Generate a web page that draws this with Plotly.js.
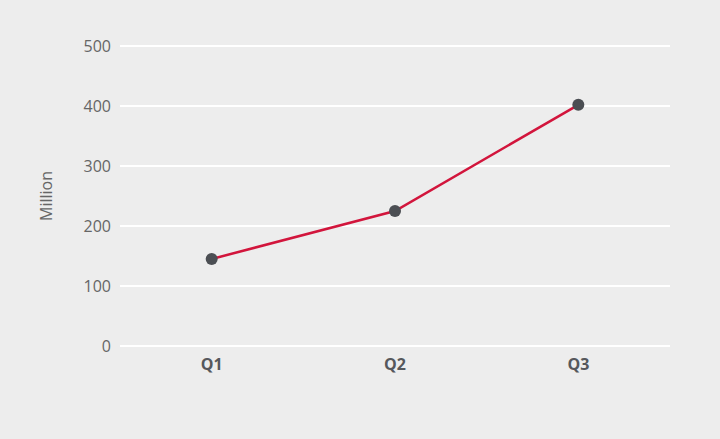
<!DOCTYPE html>
<html>
<head>
<meta charset="utf-8">
<script src="https://cdn.plot.ly/plotly-3.0.1.min.js"></script>
<style>html,body{margin:0;padding:0;background:#ededed;}</style>
</head>
<body>
<div id="chart" style="width:720px;height:439px;"></div>
<script>
const quarters = ["Q1", "Q2", "Q3"];
const values = [145, 225, 402];
const yTicks = [0, 100, 200, 300, 400, 500];

const trace = {
  x: quarters,
  y: values,
  type: "scatter",
  mode: "lines+markers",
  line: {color: "#d2153c", width: 2.5},
  marker: {color: "#4b4e53", size: 12},
  hoverinfo: "none"
};

const layout = {
  width: 720,
  height: 439,
  paper_bgcolor: "#ededed",
  plot_bgcolor: "#ededed",
  margin: {l: 120, r: 50, t: 45, b: 92},
  showlegend: false,
  font: {family: "'Open Sans', sans-serif", color: "#666666"},
  xaxis: {
    type: "category",
    range: [-0.5, 2.5],
    showgrid: false,
    zeroline: false,
    showline: false,
    ticks: "",
    ticklabelstandoff: 6,
    tickfont: {size: 16, color: "#56585c", family: "'Open Sans', sans-serif", weight: "bold"}
  },
  yaxis: {
    range: [-1.7, 501.7],
    tickvals: yTicks,
    ticktext: yTicks.map(String),
    showgrid: true,
    gridcolor: "#ffffff",
    gridwidth: 2,
    zeroline: false,
    showline: false,
    ticks: "",
    ticklabelstandoff: 8,
    tickfont: {size: 16, color: "#666666"},
    title: {text: "Million", font: {size: 16, color: "#666666"}, standoff: 26}
  }
};

Plotly.newPlot("chart", [trace], layout, {displayModeBar: false, staticPlot: true});
</script>
</body>
</html>
